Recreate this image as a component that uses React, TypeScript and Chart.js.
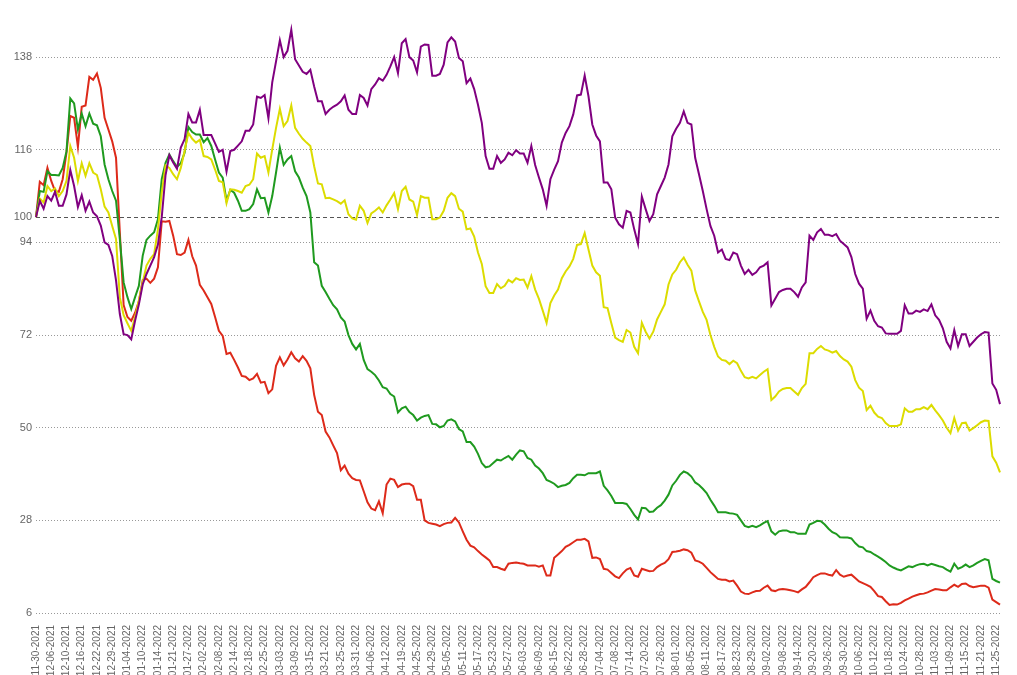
import React, { useEffect, useRef } from 'react';
import { Chart, registerables } from 'chart.js';

Chart.register(...registerables);

const dates: string[] = [
  '11-30-2021',
  '12-01-2021','12-02-2021','12-03-2021','12-06-2021','12-07-2021','12-08-2021','12-09-2021','12-10-2021','12-13-2021','12-14-2021','12-15-2021','12-16-2021','12-17-2021','12-20-2021','12-21-2021','12-22-2021','12-23-2021','12-27-2021','12-28-2021','12-29-2021','12-30-2021','12-31-2021',
  '01-03-2022','01-04-2022','01-05-2022','01-06-2022','01-07-2022','01-10-2022','01-11-2022','01-12-2022','01-13-2022','01-14-2022','01-18-2022','01-19-2022','01-20-2022','01-21-2022','01-24-2022','01-25-2022','01-26-2022','01-27-2022','01-28-2022','01-31-2022',
  '02-01-2022','02-02-2022','02-03-2022','02-04-2022','02-07-2022','02-08-2022','02-09-2022','02-10-2022','02-11-2022','02-14-2022','02-15-2022','02-16-2022','02-17-2022','02-18-2022','02-22-2022','02-23-2022','02-24-2022','02-25-2022','02-28-2022',
  '03-01-2022','03-02-2022','03-03-2022','03-04-2022','03-07-2022','03-08-2022','03-09-2022','03-10-2022','03-11-2022','03-14-2022','03-15-2022','03-16-2022','03-17-2022','03-18-2022','03-21-2022','03-22-2022','03-23-2022','03-24-2022','03-25-2022','03-28-2022','03-29-2022','03-30-2022','03-31-2022',
  '04-01-2022','04-04-2022','04-05-2022','04-06-2022','04-07-2022','04-08-2022','04-11-2022','04-12-2022','04-13-2022','04-14-2022','04-18-2022','04-19-2022','04-20-2022','04-21-2022','04-22-2022','04-25-2022','04-26-2022','04-27-2022','04-28-2022','04-29-2022',
  '05-02-2022','05-03-2022','05-04-2022','05-05-2022','05-06-2022','05-09-2022','05-10-2022','05-11-2022','05-12-2022','05-13-2022','05-16-2022','05-17-2022','05-18-2022','05-19-2022','05-20-2022','05-23-2022','05-24-2022','05-25-2022','05-26-2022','05-27-2022','05-31-2022',
  '06-01-2022','06-02-2022','06-03-2022','06-06-2022','06-07-2022','06-08-2022','06-09-2022','06-10-2022','06-13-2022','06-14-2022','06-15-2022','06-16-2022','06-17-2022','06-21-2022','06-22-2022','06-23-2022','06-24-2022','06-27-2022','06-28-2022','06-29-2022','06-30-2022',
  '07-01-2022','07-04-2022','07-05-2022','07-06-2022','07-07-2022','07-08-2022','07-11-2022','07-12-2022','07-13-2022','07-14-2022','07-15-2022','07-18-2022','07-19-2022','07-20-2022','07-21-2022','07-22-2022','07-25-2022','07-26-2022','07-27-2022','07-28-2022','07-29-2022',
  '08-01-2022','08-02-2022','08-03-2022','08-04-2022','08-05-2022','08-08-2022','08-09-2022','08-10-2022','08-11-2022','08-12-2022','08-15-2022','08-16-2022','08-17-2022','08-18-2022','08-19-2022','08-22-2022','08-23-2022','08-24-2022','08-25-2022','08-26-2022','08-29-2022','08-30-2022','08-31-2022',
  '09-01-2022','09-02-2022','09-05-2022','09-06-2022','09-07-2022','09-08-2022','09-09-2022','09-12-2022','09-13-2022','09-14-2022','09-15-2022','09-16-2022','09-19-2022','09-20-2022','09-21-2022','09-22-2022','09-23-2022','09-26-2022','09-27-2022','09-28-2022','09-29-2022','09-30-2022',
  '10-03-2022','10-04-2022','10-05-2022','10-06-2022','10-07-2022','10-10-2022','10-11-2022','10-12-2022','10-13-2022','10-14-2022','10-17-2022','10-18-2022','10-19-2022','10-20-2022','10-21-2022','10-24-2022','10-25-2022','10-26-2022','10-27-2022','10-28-2022','10-31-2022',
  '11-01-2022','11-02-2022','11-03-2022','11-04-2022','11-07-2022','11-08-2022','11-09-2022','11-10-2022','11-11-2022','11-14-2022','11-15-2022','11-16-2022','11-17-2022','11-18-2022','11-21-2022','11-22-2022','11-23-2022','11-24-2022','11-25-2022','11-28-2022',
];

const purpleSeries: number[] = [
  100, 103.9, 102, 105, 103.9, 106, 102.7, 102.7, 105.4, 111.2,
  107.4, 102.4, 105.2, 101.5, 103.7, 101.1, 100.2, 98, 94, 93.4,
  90.8, 85, 77, 72.2, 72, 71, 75.4, 79.3, 84, 86.5,
  88.5, 90.5, 93.5, 100, 110, 114.7, 113, 111.5, 116.5, 118.5,
  124.5, 122.5, 122.5, 125.5, 119.5, 119.5, 119.5, 117.5, 115.5, 116,
  110.8, 115.7, 116, 117, 118, 120.5, 120.5, 122, 128.6, 128.3,
  129, 123.5, 132, 137, 142, 138, 139.5, 144.5, 137.5, 136,
  134.5, 134, 135, 131, 127.5, 127.5, 124.5, 125.5, 126.2, 126.7,
  127.5, 128.9, 125.5, 124.5, 124.5, 129, 128.3, 126.5, 130.4, 131.5,
  133, 132.4, 133.8, 135.8, 138, 134.2, 141.3, 142.3, 138, 137.2,
  134.4, 140.5, 141, 140.9, 133.6, 133.6, 134, 136.2, 141.5, 142.7,
  141.7, 137.8, 137, 131.8, 132.9, 130.4, 126.7, 122.4, 114.5, 111.5,
  111.5, 114.5, 112.9, 113.7, 115.3, 114.7, 115.9, 115.1, 115.1, 112.9,
  116.9, 112.4, 109.4, 106.6, 102.7, 109, 111.3, 113.3, 117.7, 120,
  121.6, 124.4, 128.9, 129.1, 133.6, 128.7, 122, 119.4, 118, 108.2,
  108.2, 106.6, 99.9, 98.3, 97.5, 101.5, 101.1, 97.1, 93.6, 104.9,
  101.9, 99.1, 100.7, 105.4, 107.4, 109.4, 112.5, 119.2, 121, 122.4,
  125.1, 122.4, 122, 114.1, 110.2, 106.2, 101.9, 97.9, 95.6, 91.6,
  92.3, 90.1, 89.8, 91.6, 91.2, 88.5, 86.5, 87.5, 86.3, 86.9,
  88.1, 88.5, 89.3, 79, 80.6, 82.2, 82.7, 83, 83, 82.2,
  81.1, 83.3, 84.5, 95.6, 94.6, 96.4, 97.2, 95.8, 95.8, 95.5,
  96, 94.4, 93.6, 92.8, 90.5, 86.5, 84.2, 83, 75.9, 77.8,
  75.4, 74.1, 73.8, 72.4, 72.3, 72.3, 72.3, 73, 79.1, 77.1,
  77.1, 77.8, 77.5, 78.1, 77.7, 79.3, 76.7, 75.6, 73.6, 70.4,
  68.8, 73.2, 69.4, 72.2, 72.2, 69.4, 70.4, 71.4, 72.2, 72.7,
  72.6, 60.5, 59, 55.6,
];

const yellowSeries: number[] = [
  100, 104.4, 103.5, 107.4, 106.2, 106.8, 105, 106.2, 108.6, 116.9,
  114.1, 108.6, 112.8, 109.8, 112.8, 110.6, 110, 106.6, 102.5, 101.1,
  97.9, 94.8, 81, 76.7, 74.8, 73, 76.3, 80.3, 84.5, 88.5,
  90.1, 91.2, 97.1, 105.8, 112.3, 111.7, 110.2, 109, 111.7, 115.7,
  120, 118.6, 117.7, 118.4, 114.5, 114.3, 113.7, 111.3, 108.6, 108.3,
  103.3, 106.6, 106.5, 106.2, 105.8, 107.4, 107.7, 109, 115.1, 114.1,
  114.5, 110.6, 116.1, 121.2, 125.7, 121.6, 122.8, 126.5, 121.2, 119.8,
  118.6, 117.7, 116.9, 112.1, 108, 107.8, 104.5, 104.6, 104.2, 103.8,
  103.2, 104, 100.7, 99.7, 99.4, 102.7, 101.5, 98.6, 100.9, 101.5,
  102.3, 101.1, 102.8, 104.2, 105.7, 101.9, 106.2, 107.2, 104.2, 103.7,
  100.5, 105, 104.6, 104.6, 99.5, 99.5, 99.9, 101.5, 104.6, 105.7,
  105, 102, 101.3, 97.1, 97.3, 95.4, 91.6, 88.9, 83.6, 82,
  82, 84.1, 83.1, 83.7, 85.1, 84.5, 85.5, 85.1, 85.2, 83.3,
  86, 82.8, 80.6, 77.8, 74.9, 79.6, 81.4, 82.8, 85.5, 87.1,
  88.3, 90.1, 93.4, 93.6, 96.2, 92.3, 88.5, 86.9, 86.1, 78.6,
  78.4, 74.8, 71.4, 70.8, 70.4, 73.2, 72.6, 69.2, 67.7, 74.9,
  72.8, 71.2, 72.8, 75.7, 77.5, 79.3, 84, 86.4, 87.5, 89.3,
  90.4, 88.7, 87.3, 82.6, 80, 77.5, 75.6, 72, 69.2, 66.9,
  66.1, 65.9, 65.1, 65.9, 65.3, 63.5, 62, 61.7, 62.1, 61.7,
  62.5, 63.3, 63.9, 56.6, 57.4, 58.6, 59.2, 59.4, 59.4, 58.6,
  57.8, 59.4, 60.4, 67.7, 67.7, 68.7, 69.4, 68.6, 68.3, 67.8,
  68.2, 67, 66.2, 65.7, 64.5, 61.3, 59.5, 58.7, 54.2, 55.2,
  53.6, 52.6, 52.3, 51.1, 50.4, 50.4, 50.4, 50.8, 54.6, 53.8,
  53.8, 54.4, 54.4, 54.9, 54.4, 55.4, 54.1, 53, 51.7, 50,
  48.7, 52.3, 49.3, 51.1, 51.2, 49.3, 49.9, 50.6, 51.3, 51.7,
  51.6, 43.2, 41.7, 39.4,
];

const greenSeries: number[] = [
  100, 106.2, 106, 110.9, 110, 110, 109.9, 111.7, 115.6, 128.2,
  127, 120.8, 124.6, 121.6, 124.6, 122.2, 121.8, 119.2, 112.5, 109,
  106.2, 103.9, 94.8, 84.5, 81, 78.2, 81, 83.7, 90.8, 94.6,
  95.6, 96.4, 99.5, 109, 112.9, 114.9, 113.3, 111.9, 112.8, 115.3,
  121.4, 120.2, 119.6, 119.6, 117.8, 118.8, 116.9, 113.7, 110.6, 109.4,
  103.9, 106.5, 105.8, 103.9, 101.5, 101.5, 101.9, 103.1, 106.6, 104.5,
  104.6, 101.1, 105, 110.6, 116.5, 112.4, 113.7, 114.5, 110.9, 109.4,
  107, 105, 101.1, 89.3, 88.5, 83.7, 82.2, 80.6, 79.1, 78.1,
  76.2, 75.2, 72, 69.9, 68.6, 69.9, 66.1, 63.9, 63.3, 62.5,
  61.2, 59.6, 59.3, 58, 57.4, 53.6, 54.6, 55, 53.7, 53,
  51.7, 52.4, 52.8, 53, 50.9, 50.8, 50.1, 50.4, 51.7, 52,
  51.5, 49.7, 49.1, 46.6, 46.6, 45.5, 43.8, 41.6, 40.6, 40.8,
  41.6, 42.4, 42.2, 42.8, 43.3, 42.4, 43.6, 44.6, 44.4, 42.8,
  42.4, 41, 40.3, 39.2, 37.6, 37.2, 36.7, 35.9, 36.2, 36.4,
  36.9, 38, 38.8, 38.8, 38.7, 39.2, 39.2, 39.2, 39.6, 36.2,
  35.1, 33.8, 32.1, 32.1, 32.1, 31.9, 30.7, 29.3, 28.2, 31,
  30.9, 30, 30.1, 31, 31.6, 32.7, 34.1, 36.3, 37.4, 38.8,
  39.6, 39.2, 38.4, 37, 36.4, 35.5, 34.5, 32.9, 31.5, 29.9,
  29.9, 29.9, 29.7, 29.6, 29.3, 28, 26.7, 26.4, 26.7, 26.4,
  26.8, 27.4, 27.8, 25.4, 24.6, 25.4, 25.6, 25.6, 25.2, 25.2,
  24.8, 24.8, 24.8, 27, 27.4, 27.9, 27.8, 27, 26, 25.2,
  24.8, 24, 23.9, 23.9, 23.7, 22.6, 21.8, 21.6, 20.7, 20.5,
  19.9, 19.4, 18.8, 18.1, 17.3, 16.8, 16.4, 16.1, 16.6, 17.1,
  16.9, 17.3, 17.6, 17.7, 17.3, 17.7, 17.4, 17.1, 16.9, 16.3,
  15.8, 17.7, 16.5, 16.9, 17.5, 16.9, 17.3, 17.9, 18.4, 18.8,
  18.5, 14.1, 13.6, 13.2,
];

const redSeries: number[] = [
  100, 108.4, 107.6, 111.7, 108.6, 106.2, 106, 109, 115.3, 124,
  123.6, 116.7, 126.2, 126.5, 133.3, 132.6, 134.1, 130.7, 123.6, 120.8,
  118, 114.1, 96.4, 79.1, 76.3, 75.4, 77.3, 80, 85, 85.4,
  84.4, 85.4, 88.1, 99, 98.9, 99.1, 95.6, 91.2, 91, 91.6,
  94.6, 90.7, 88.5, 83.9, 82.6, 81, 79.4, 76.3, 73, 71.8,
  67.5, 67.8, 66.1, 64.3, 62.3, 62.1, 61.3, 61.7, 62.8, 60.7,
  60.9, 58.2, 59.1, 64.7, 66.7, 64.8, 66.2, 67.9, 66.5, 65.7,
  67, 65.9, 64.1, 57.8, 53.8, 53, 49.1, 47.7, 45.8, 44,
  39.9, 41, 39.1, 38, 37.6, 37.5, 34.9, 32.3, 30.8, 30.4,
  32.5, 29.7, 36.5, 37.9, 37.6, 35.9, 36.5, 36.7, 36.7, 36.1,
  32.9, 32.9, 28, 27.4, 27.2, 27, 26.6, 27.1, 27.4, 27.5,
  28.6, 27.5, 25.4, 23.4, 22, 21.6, 20.7, 19.9, 19.2, 18.5,
  16.9, 16.9, 16.5, 16.2, 17.7, 17.9, 18, 17.8, 17.7, 17.3,
  17.3, 17.3, 17, 17.3, 14.9, 14.9, 19.1, 19.9, 20.7, 21.7,
  22.2, 22.8, 23.4, 23.4, 23.6, 23, 19.1, 19.2, 18.8, 16.5,
  16.3, 15.5, 14.7, 14.3, 15.4, 16.3, 16.7, 14.9, 14.6, 16.5,
  16.2, 15.9, 16, 16.9, 17.5, 17.9, 18.8, 20.5, 20.6, 20.8,
  21.1, 20.9, 20.3, 18.5, 18.2, 17.7, 16.7, 15.7, 14.9, 14.1,
  13.9, 13.9, 13.5, 13.7, 12.5, 11.1, 10.6, 10.5, 10.9, 11.2,
  11.3, 12, 12.5, 11.4, 11.2, 11.6, 11.7, 11.6, 11.4, 11.2,
  10.9, 11.6, 12.2, 13.3, 14.5, 15, 15.4, 15.4, 15.1, 14.9,
  16.2, 15.1, 14.6, 14.9, 15.1, 14.3, 13.5, 13.1, 12.7, 12.2,
  11.2, 10, 9.8, 8.8, 7.9, 8.1, 8, 8.4, 9, 9.4,
  9.9, 10.2, 10.5, 10.6, 10.9, 11.3, 11.7, 11.6, 11.4, 11.4,
  12.1, 12.7, 12.2, 12.9, 13, 12.4, 12.1, 12.3, 12.5, 12.5,
  12, 9.2, 8.6, 8,
];

const yTickValues: number[] = [6, 28, 50, 72, 94, 100, 116, 138];
const baselineValue = 100;

const FONT = '"Liberation Sans", Arial, Helvetica, sans-serif';

export default function App() {
  const ref = useRef<HTMLCanvasElement>(null);

  useEffect(() => {
    if (!ref.current) return;
    const mk = (data: number[], color: string) => ({
      data,
      borderColor: color,
      backgroundColor: color,
      borderWidth: 2,
      pointRadius: 0,
      tension: 0,
      fill: false,
    });
    const chart = new Chart(ref.current, {
      type: 'line',
      data: {
        labels: dates,
        datasets: [
          mk(purpleSeries, '#800080'),
          mk(yellowSeries, '#dcdc00'),
          mk(greenSeries, '#1f9a1f'),
          mk(redSeries, '#dd2a1a'),
        ],
      },
      options: {
        responsive: false,
        animation: false,
        layout: { padding: { top: 7, right: 9, left: 0, bottom: 0 } },
        plugins: {
          legend: { display: false },
          tooltip: { enabled: false },
        },
        scales: {
          x: {
            grid: { display: false },
            border: { display: false },
            ticks: {
              autoSkip: false,
              minRotation: 90,
              maxRotation: 90,
              color: '#666',
              padding: 4,
              font: { size: 10, family: FONT },
              callback: (_v: any, i: number) => (i % 4 === 0 ? dates[i] : null),
            },
            afterFit: (s: any) => {
              s.height = 62;
              s.paddingLeft = 0;
              s.paddingRight = 0;
            },
          },
          y: {
            min: 6,
            max: 148,
            afterBuildTicks: (s: any) => {
              s.ticks = yTickValues.map((v) => ({ value: v }));
            },
            ticks: {
              color: '#666',
              padding: 4,
              font: { size: 11, family: FONT },
            },
            grid: {
              drawTicks: false,
              lineWidth: 1,
              color: (ctx: any) => (ctx.tick && ctx.tick.value === baselineValue ? '#555' : '#999'),
            },
            border: {
              display: false,
              dash: (ctx: any) => (ctx.tick && ctx.tick.value === baselineValue ? [4, 3] : [1, 2]),
            },
            afterFit: (s: any) => {
              s.width = 28;
              s.paddingTop = 0;
              s.paddingBottom = 0;
            },
          },
        },
      } as any,
    });
    return () => chart.destroy();
  }, []);

  return <canvas ref={ref} width={1001} height={667} style={{ display: 'block' }} />;
}
